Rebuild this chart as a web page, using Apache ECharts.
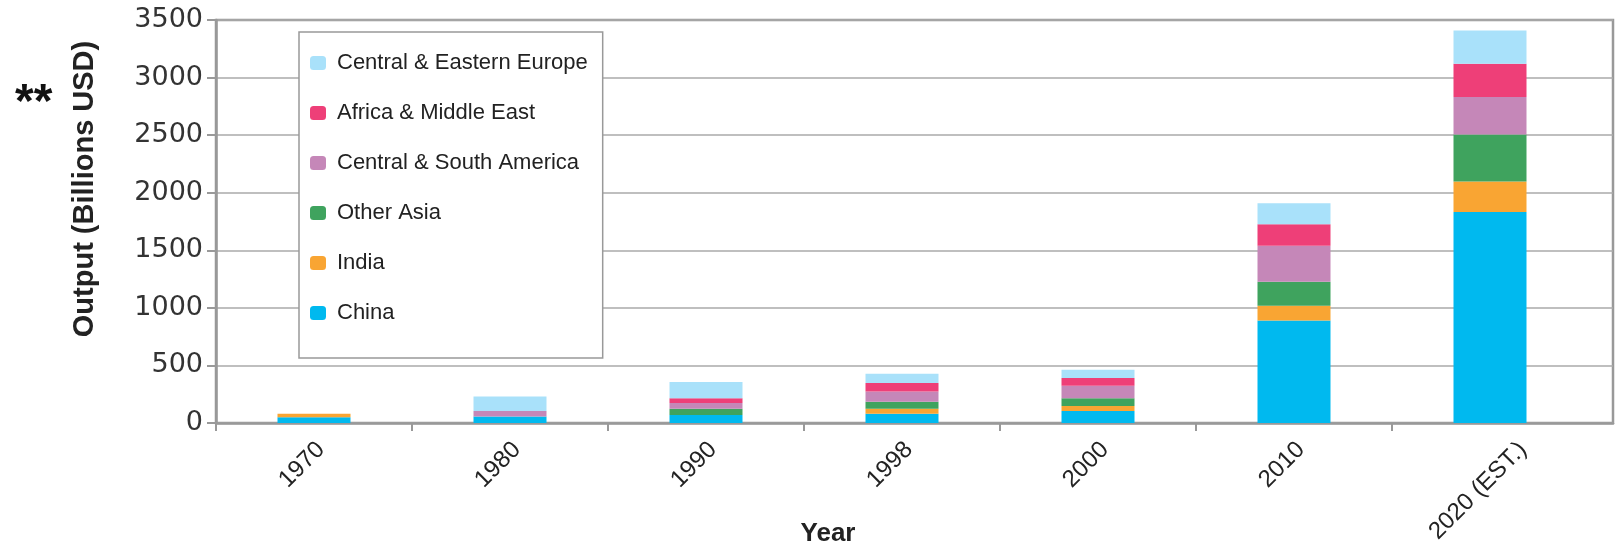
<!DOCTYPE html>
<html>
<head>
<meta charset="utf-8">
<script src="https://cdn.jsdelivr.net/npm/echarts@6/dist/echarts.min.js"></script>
<style>
  html, body { margin: 0; padding: 0; background: #fff; }
  #chart { width: 1617px; height: 548px; }
</style>
</head>
<body>
<div id="chart"></div>
<script>
// 數據 - 從圖上讀取 (Billions USD)
const years = ['1970', '1980', '1990', '1998', '2000', '2010', '2020 (EST.)'];
const china = [49, 57, 69, 81, 104, 891, 1832];
const india = [32, 0, 0, 43, 43, 128, 266];
const otherAsia = [0, 0, 55, 61, 69, 208, 408];
const centralSouthAmerica = [0, 47, 49, 89, 107, 312, 325];
const africaMiddleEast = [0, 0, 43, 73, 67, 188, 289];
const centralEasternEurope = [0, 127, 139, 81, 72, 182, 289];
const yMax = 3500;
const yStep = 500;

const FONT = '"Liberation Sans", Arial, sans-serif';
const LABEL_SIZE = 24;

const seriesDefs = [
    { name: 'China', data: china, color: '#00B9EF' },
    { name: 'India', data: india, color: '#F9A533' },
    { name: 'Other Asia', data: otherAsia, color: '#3FA35E' },
    { name: 'Central & South America', data: centralSouthAmerica, color: '#C587B8' },
    { name: 'Africa & Middle East', data: africaMiddleEast, color: '#EE3F78' },
    { name: 'Central & Eastern Europe', data: centralEasternEurope, color: '#A9E1FA' }
];

const chart = echarts.init(document.getElementById('chart'));

// 類別寬度 196px，外框延伸到 1613px
const catWidth = 196;
const catSpan = (1613 - 216) / catWidth;

// Excel 式斜標籤：長標籤向右偏移
const ctx = document.createElement('canvas').getContext('2d');
ctx.font = LABEL_SIZE + 'px "Liberation Sans"';
const labelPos = years.map((y, i) => i + 0.5 + (ctx.measureText(y).width * 0.354 - 12) / catWidth);

chart.setOption({
    animation: false,
    backgroundColor: '#fff',
    grid: [
        { left: 216, right: 1617 - 216 - catWidth * years.length, top: 20, bottom: 125 },
        { left: 216, right: 4, top: 20, bottom: 125, show: true, borderColor: '#999', borderWidth: 2.5, backgroundColor: 'transparent' }
    ],
    xAxis: [
        {
            type: 'category', gridIndex: 0, data: years,
            axisLine: { show: false },
            axisTick: { show: false },
            axisLabel: { show: false }
        },
        {
            type: 'value', gridIndex: 1, min: 0, max: catSpan,
            axisLine: { show: true, lineStyle: { color: '#999', width: 2.5 } },
            axisTick: { show: true, length: 8, lineStyle: { color: '#999', width: 2 }, customValues: [0, 1, 2, 3, 4, 5, 6] },
            axisLabel: {
                show: true, customValues: labelPos, rotate: 45, margin: 23,
                fontSize: LABEL_SIZE, color: '#222', fontFamily: FONT,
                formatter: v => years[Math.round(v - 0.5)]
            },
            splitLine: { show: false }
        }
    ],
    yAxis: [
        { type: 'value', gridIndex: 0, min: 0, max: yMax, interval: yStep, show: false },
        {
            type: 'value', gridIndex: 1, min: 0, max: yMax, interval: yStep,
            axisLine: { show: true, lineStyle: { color: '#999', width: 2.5 } },
            axisTick: { show: true, length: 9, lineStyle: { color: '#999', width: 2 } },
            axisLabel: { fontSize: 27, color: '#333', fontFamily: '"DejaVu Sans", sans-serif', margin: 13, formatter: v => String(v) },
            splitLine: { show: true, lineStyle: { color: '#aaa', width: 1.5 } }
        }
    ],
    legend: {
        orient: 'vertical',
        left: 299,
        top: 32,
        padding: [20, 15, 34, 11],
        itemGap: 28,
        itemWidth: 16,
        itemHeight: 14,
        backgroundColor: '#fff',
        borderColor: '#999',
        borderWidth: 1.5,
        selectedMode: false,
        textStyle: { fontSize: 22, color: '#222', fontFamily: FONT, lineHeight: 22, padding: [0, 0, 0, 6] },
        data: seriesDefs.map(s => s.name).reverse()
    },
    graphic: [
        {
            type: 'text', left: 15, top: 80,
            style: { text: '**', fontSize: 48, fontWeight: 'bold', fill: '#111', fontFamily: FONT }
        },
        {
            type: 'text', x: 85, y: 189, rotation: Math.PI / 2,
            style: { text: 'Output (Billions USD)', fontSize: 29, fontWeight: 'bold', fill: '#222', fontFamily: FONT, align: 'center', verticalAlign: 'middle' }
        },
        {
            type: 'text', x: 828, y: 534,
            style: { text: 'Year', fontSize: 26, fontWeight: 'bold', fill: '#222', fontFamily: FONT, align: 'center', verticalAlign: 'middle' }
        }
    ],
    series: seriesDefs.map(s => ({
        name: s.name,
        type: 'bar',
        stack: 'total',
        xAxisIndex: 0,
        yAxisIndex: 0,
        barWidth: 73,
        data: s.data,
        itemStyle: { color: s.color }
    }))
});
</script>
</body>
</html>
